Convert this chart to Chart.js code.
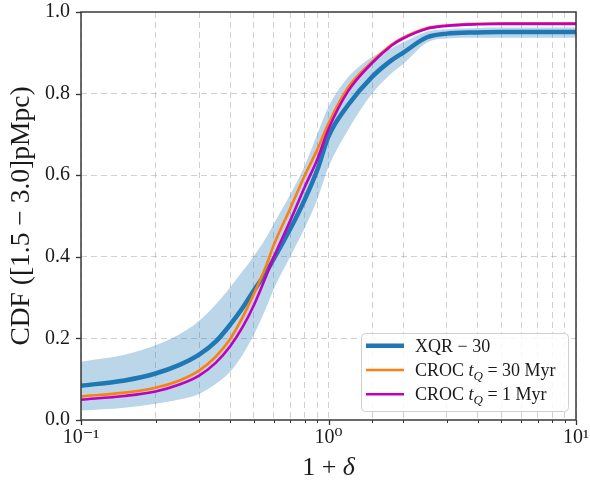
<!DOCTYPE html>
<html><head><meta charset="utf-8">
<script src="https://cdn.jsdelivr.net/npm/chart.js@4/dist/chart.umd.min.js"></script>
<style>html,body{margin:0;padding:0;background:#fff;}</style>
</head><body>
<canvas id="c" width="590" height="481" style="width:590px;height:481px;display:block"></canvas>
<script>
// ---- data ----
const deltaX = [0.1,0.15,0.2,0.25,0.3,0.35,0.4,0.45,0.5,0.56,0.6,0.7,0.8,0.9,1.0,1.2,1.5,1.8,2.0,2.5,3,4,5,7,10];
const xqr30 = [0.084,0.097,0.114,0.135,0.160,0.192,0.233,0.275,0.318,0.362,0.394,0.468,0.539,0.612,0.695,0.772,0.841,0.882,0.900,0.938,0.947,0.950,0.951,0.951,0.951];
const xqr30Upper = [0.143,0.160,0.183,0.210,0.243,0.283,0.325,0.365,0.402,0.447,0.480,0.552,0.622,0.700,0.768,0.840,0.890,0.912,0.925,0.952,0.958,0.961,0.962,0.962,0.962];
const xqr30Lower = [0.023,0.030,0.040,0.050,0.064,0.088,0.118,0.160,0.210,0.275,0.320,0.400,0.470,0.540,0.620,0.711,0.800,0.850,0.872,0.925,0.935,0.937,0.937,0.937,0.937];
const croc30 = [0.058,0.067,0.079,0.097,0.121,0.155,0.198,0.252,0.310,0.378,0.428,0.518,0.598,0.662,0.727,0.815,0.878,0.920,0.937,0.961,0.967,0.971,0.972,0.972,0.972];
const croc1 = [0.050,0.059,0.070,0.087,0.109,0.140,0.180,0.228,0.282,0.353,0.398,0.488,0.570,0.638,0.713,0.806,0.875,0.918,0.935,0.959,0.966,0.970,0.971,0.971,0.971];
const yTicks = [0.0,0.2,0.4,0.6,0.8,1.0];
const xMajorLabels = {'-1':'10\u207B\u00B9','0':'10\u2070','1':'10\u00B9'};
const seriesLabels = ['XQR \u2212 30','CROC t_Q = 30 Myr','CROC t_Q = 1 Myr'];

const pts = arr => arr.map((v,i)=>({x:deltaX[i], y:v}));
const SERIF = "'Liberation Serif','DejaVu Serif',serif";
const isMajor = v => { const l=Math.log10(v); return Math.abs(l-Math.round(l))<1e-6; };

const mplPlugin = {
  id:'mpl',
  afterDraw(chart){
    const ctx=chart.ctx, a=chart.chartArea, xs=chart.scales.x, ys=chart.scales.y;
    ctx.save();
    ctx.strokeStyle='#333';
    xs.ticks.forEach(t=>{
      const px=Math.round(xs.getPixelForValue(t.value))+0.5, mj=isMajor(t.value);
      ctx.lineWidth=mj?1.3:1; ctx.beginPath(); ctx.moveTo(px,a.bottom); ctx.lineTo(px,a.bottom+(mj?5:3)); ctx.stroke();
    });
    yTicks.forEach(v=>{
      const py=Math.round(ys.getPixelForValue(v))+0.5;
      ctx.lineWidth=1.3; ctx.beginPath(); ctx.moveTo(a.left,py); ctx.lineTo(a.left-5,py); ctx.stroke();
    });
    ctx.lineWidth=1.5; ctx.strokeStyle='#3a3a3a';
    ctx.strokeRect(a.left,a.top,a.right-a.left,a.bottom-a.top);

    // x axis title "1 + δ"
    ctx.fillStyle='#1a1a1a'; ctx.textBaseline='alphabetic'; ctx.textAlign='left';
    const f1='26px '+SERIF, f2='italic 26px '+SERIF;
    ctx.font=f1; const w1=ctx.measureText('1 + ').width;
    ctx.font=f2; const w2=ctx.measureText('\u03B4').width;
    const cx=(a.left+a.right)/2, x0=cx-(w1+w2)/2, by=475;
    ctx.font=f1; ctx.fillText('1 + ',x0,by);
    ctx.font=f2; ctx.fillText('\u03B4',x0+w1,by);

    // legend
    const L=361,T=333,R=568,B=411;
    ctx.beginPath(); ctx.roundRect(L+0.5,T+0.5,R-L,B-T,4);
    ctx.fillStyle='rgba(255,255,255,0.85)'; ctx.fill();
    ctx.strokeStyle='#d0d0d0'; ctx.lineWidth=1; ctx.stroke();
    const rows=[345.7,370,394.3];
    const cols=['#1f77b4','#ff7f0e','#bf00bf'], lws=[4.5,2.6,2.6];
    rows.forEach((ry,i)=>{
      ctx.strokeStyle=cols[i]; ctx.lineWidth=lws[i];
      ctx.beginPath(); ctx.moveTo(366,ry); ctx.lineTo(404,ry); ctx.stroke();
      ctx.fillStyle='#1a1a1a'; ctx.textBaseline='alphabetic';
      const base=ry+6; let x=415;
      const lab=seriesLabels[i];
      if(lab.indexOf('t_Q')<0){ ctx.font='18px '+SERIF; ctx.fillText(lab,x,base); }
      else{
        const [pre,post]=lab.split('t_Q');
        ctx.font='18px '+SERIF; ctx.fillText(pre,x,base); x+=ctx.measureText(pre).width;
        ctx.font='italic 18px '+SERIF; ctx.fillText('t',x,base); x+=ctx.measureText('t').width;
        ctx.font='italic 13px '+SERIF; ctx.fillText('Q',x,base+4); x+=ctx.measureText('Q').width;
        ctx.font='18px '+SERIF; ctx.fillText(post,x,base);
      }
    });
    ctx.restore();
  }
};

const gridColor='rgba(170,170,170,0.55)';
new Chart(document.getElementById('c'),{
  type:'line',
  data:{datasets:[
    {label:seriesLabels[2], data:pts(croc1), borderColor:'#bf00bf', borderWidth:2.6, pointRadius:0, cubicInterpolationMode:'monotone', fill:false, order:0},
    {label:seriesLabels[1], data:pts(croc30), borderColor:'#ff7f0e', borderWidth:2.6, pointRadius:0, cubicInterpolationMode:'monotone', fill:false, order:1},
    {label:seriesLabels[0], data:pts(xqr30), borderColor:'#1f77b4', borderWidth:4.5, pointRadius:0, cubicInterpolationMode:'monotone', fill:false, order:2},
    {label:'XQR upper', data:pts(xqr30Upper), borderColor:'rgba(0,0,0,0)', borderWidth:0, pointRadius:0, cubicInterpolationMode:'monotone', fill:'+1', backgroundColor:'rgba(31,119,180,0.3)', order:3},
    {label:'XQR lower', data:pts(xqr30Lower), borderColor:'rgba(0,0,0,0)', borderWidth:0, pointRadius:0, cubicInterpolationMode:'monotone', fill:false, order:4}
  ]},
  options:{
    responsive:false, animation:false, devicePixelRatio:1,
    layout:{padding:{top:12,right:14,left:0,bottom:0}},
    plugins:{legend:{display:false}, tooltip:{enabled:false}},
    scales:{
      x:{type:'logarithmic', min:0.1, max:10,
        grid:{color:gridColor, lineWidth:1, drawTicks:false, borderDash:[6,4]},
        border:{display:false, dash:[6,4]},
        ticks:{autoSkip:false, maxRotation:0, padding:6, color:'#1a1a1a', font:{family:SERIF,size:20},
          callback:(v)=>{ if(!isMajor(v)) return ''; return xMajorLabels[String(Math.round(Math.log10(v)))]||''; }},
        afterFit:(s)=>{ s.height=61; s.paddingLeft=0; s.paddingRight=0; }
      },
      y:{type:'linear', min:0, max:1,
        grid:{color:(c)=> (c.tick && (c.tick.value<=0.001||c.tick.value>=0.999)) ? 'rgba(0,0,0,0)' : gridColor, lineWidth:1, drawTicks:false, borderDash:[6,4]},
        border:{display:false, dash:[6,4]},
        afterBuildTicks:(s)=>{ s.ticks=yTicks.map(v=>({value:v})); },
        ticks:{padding:11, color:'#1a1a1a', font:{family:SERIF,size:20}, callback:(v)=>Number(v).toFixed(1)},
        title:{display:true, text:'CDF ([1.5 \u2212 3.0]pMpc)', color:'#1a1a1a', font:{family:SERIF,size:27.5,lineHeight:1.2}, padding:{top:5,bottom:0}},
        afterFit:(s)=>{ s.width=81; s.paddingTop=0; s.paddingBottom=0; }
      }
    }
  },
  plugins:[mplPlugin]
});
</script>
</body></html>
